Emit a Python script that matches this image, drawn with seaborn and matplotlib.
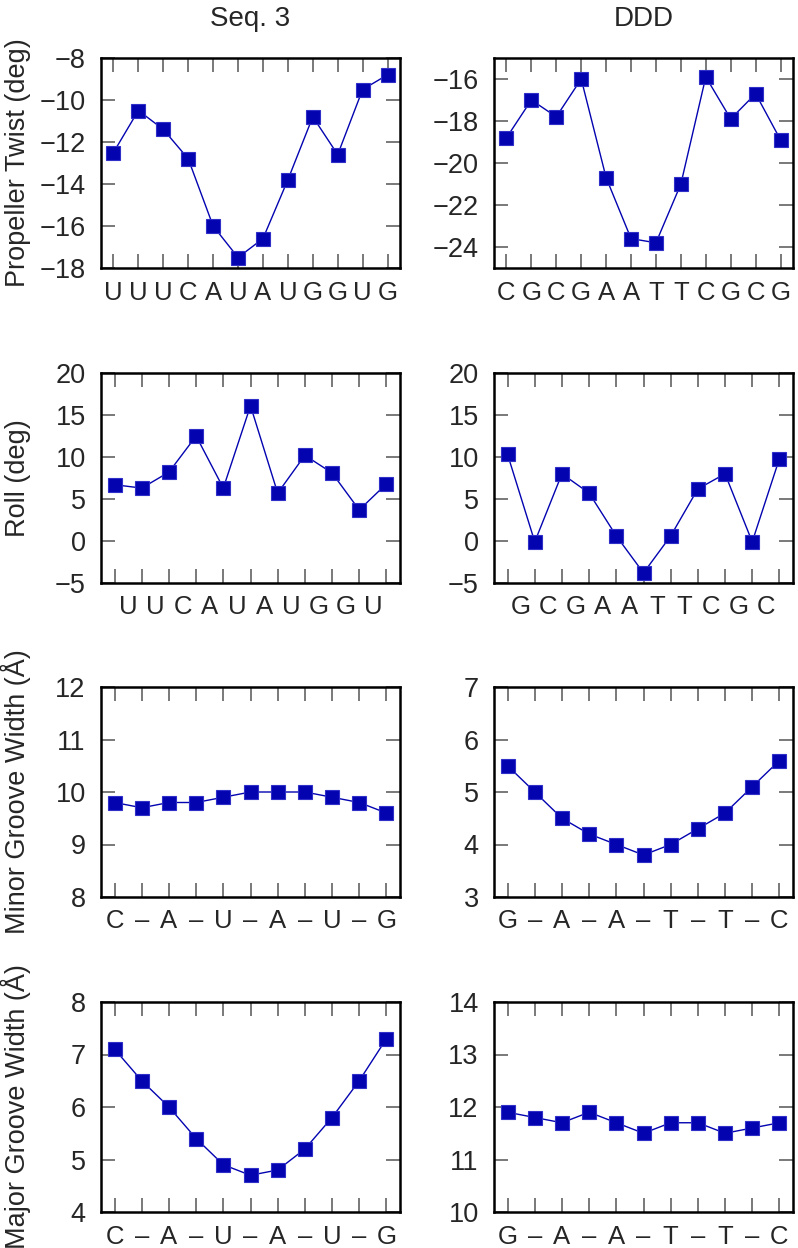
import numpy as np
import matplotlib
matplotlib.use("Agg")
import matplotlib.pyplot as plt
import seaborn as sns

sns.set_style("ticks")
plt.rcParams['font.family'] = ['Liberation Sans', 'DejaVu Sans']

# column titles and row labels
col_titles = ['Seq. 3', 'DDD']
row_labels = ['Propeller Twist (deg)', 'Roll (deg)',
              'Minor Groove Width (Å)', 'Major Groove Width (Å)']

# propeller twist
prop_seq3 = [-12.5, -10.5, -11.4, -12.8, -16.0, -17.5, -16.6, -13.8, -10.8, -12.6, -9.5, -8.8]
prop_ddd = [-18.8, -17.0, -17.8, -16.0, -20.7, -23.6, -23.8, -21.0, -15.9, -17.9, -16.7, -18.9]
prop_lab_seq3 = list('UUUCAUAUGGUG')
prop_lab_ddd = list('CGCGAATTCGCG')

# roll (labels sit between ticks)
roll_seq3 = [6.7, 6.3, 8.2, 12.5, 6.3, 16.1, 5.7, 10.2, 8.1, 3.7, 6.8]
roll_ddd = [10.3, -0.1, 8.0, 5.7, 0.6, -3.8, 0.6, 6.2, 8.0, -0.1, 9.8]
roll_lab_seq3 = list('UUCAUAUGGU')
roll_lab_ddd = list('GCGAATTCGC')

# minor groove width
minor_seq3 = [9.8, 9.7, 9.8, 9.8, 9.9, 10.0, 10.0, 10.0, 9.9, 9.8, 9.6]
minor_ddd = [5.5, 5.0, 4.5, 4.2, 4.0, 3.8, 4.0, 4.3, 4.6, 5.1, 5.6]

# major groove width
major_seq3 = [7.1, 6.5, 6.0, 5.4, 4.9, 4.7, 4.8, 5.2, 5.8, 6.5, 7.3]
major_ddd = [11.9, 11.8, 11.7, 11.9, 11.7, 11.5, 11.7, 11.7, 11.5, 11.6, 11.7]

groove_lab_seq3 = ['C', '–', 'A', '–', 'U', '–', 'A', '–', 'U', '–', 'G']
groove_lab_ddd = ['G', '–', 'A', '–', 'A', '–', 'T', '–', 'T', '–', 'C']

panels = [
    [(prop_seq3, prop_lab_seq3, (-18, -8), 2, False), (prop_ddd, prop_lab_ddd, (-25, -15), 2, False)],
    [(roll_seq3, roll_lab_seq3, (-5, 20), 5, True), (roll_ddd, roll_lab_ddd, (-5, 20), 5, True)],
    [(minor_seq3, groove_lab_seq3, (8, 12), 1, False), (minor_ddd, groove_lab_ddd, (3, 7), 1, False)],
    [(major_seq3, groove_lab_seq3, (4, 8), 1, False), (major_ddd, groove_lab_ddd, (10, 14), 1, False)],
]

W, H = 798, 1248
fig = plt.figure(figsize=(W / 100, H / 100), dpi=100)

lefts = [101, 494]
width = 299
tops = [58, 373, 687, 1002]
height = 210
blue = '#0303b0'
fs = 19.5
xfs = 18.5

for r, row in enumerate(panels):
    for c, (vals, labs, ylim, step, between) in enumerate(row):
        ax = fig.add_axes([lefts[c] / W, 1 - (tops[r] + height) / H, width / W, height / H])
        x = np.arange(len(vals))
        sns.lineplot(x=x, y=vals, ax=ax, color=blue, lw=1, marker='s', markersize=9.5,
                     markeredgecolor='#3030c8', markeredgewidth=0.8)
        ax.set_xlim(-0.5, len(vals) - 0.5)
        ax.set_ylim(*ylim)
        start = ylim[0] if ylim[0] % step == 0 else ylim[0] + 1
        yt = np.arange(start, ylim[1] + 0.01, step)
        ax.set_yticks(yt)
        ax.set_yticklabels([f'{v:g}'.replace('-', '\u2212') for v in yt])
        ax.set_xticks(x)
        if between:
            ax.set_xticklabels([])
            ax.set_xticks(np.arange(len(labs)) + 0.5, minor=True)
            ax.set_xticklabels(labs, minor=True)
            ax.tick_params(axis='x', which='minor', length=0, pad=9, labelsize=xfs)
        else:
            ax.set_xticklabels(labs)
        ax.tick_params(which='major', direction='in', length=10, width=1.1, color='#555555',
                       top=True, right=True, labelsize=fs, pad=11)
        ax.tick_params(axis='x', which='major', pad=9, labelsize=xfs)
        for s in ax.spines.values():
            s.set_linewidth(1.8)
            s.set_color('black')
        ax.set_xlabel('')
        if c == 0:
            ax.set_ylabel(row_labels[r], fontsize=fs)
            ax.yaxis.set_label_coords(-0.235, 0.5)
        if r == 0:
            fig.text((lefts[c] + width / 2) / W, 1 - 19 / H, col_titles[c],
                     fontsize=20, ha='center', va='center')

fig.savefig('out.png', dpi=100)
